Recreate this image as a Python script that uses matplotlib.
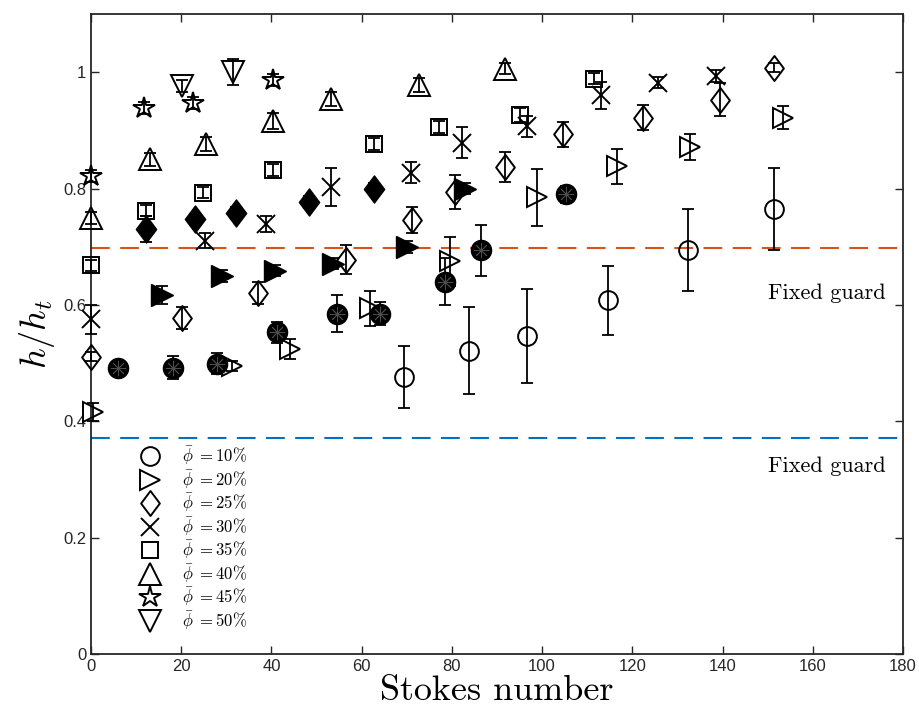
import matplotlib.pyplot as plt
from matplotlib.lines import Line2D
from matplotlib.path import Path

plt.rcParams['mathtext.fontset'] = 'cm'
plt.rcParams['font.family'] = ['Liberation Sans', 'DejaVu Sans']

# -------------------------------------------------------------------
# measured data: Stokes number vs h/h_t, one set per mean concentration
# -------------------------------------------------------------------
x10 = [69.4, 83.9, 96.7, 114.5, 132.3, 151.4]
y10 = [0.476, 0.521, 0.546, 0.608, 0.694, 0.765]
e10 = [0.053, 0.075, 0.081, 0.059, 0.070, 0.070]

x20 = [0.5, 31.2, 44.1, 61.8, 79.6, 98.8, 116.7, 132.8, 153.5]
y20 = [0.416, 0.495, 0.524, 0.594, 0.675, 0.785, 0.838, 0.871, 0.922]
e20 = [0.016, 0.008, 0.017, 0.030, 0.042, 0.049, 0.030, 0.022, 0.019]

x25 = [0, 20.1, 37.1, 56.5, 71.1, 80.7, 91.8, 104.6, 122.4, 139.4, 151.4]
y25 = [0.511, 0.578, 0.620, 0.678, 0.746, 0.794, 0.837, 0.893, 0.922, 0.953, 1.008]
e25 = [0.008, 0.019, 0.019, 0.025, 0.022, 0.029, 0.026, 0.021, 0.021, 0.028, 0.008]

x30 = [0, 25.3, 38.7, 53.2, 70.9, 82.2, 96.7, 113.0, 125.8, 138.5]
y30 = [0.575, 0.710, 0.739, 0.803, 0.827, 0.879, 0.907, 0.960, 0.982, 0.993]
e30 = [0.025, 0.013, 0.013, 0.033, 0.018, 0.027, 0.018, 0.023, 0.010, 0.010]

x35 = [0, 12.3, 24.8, 40.4, 62.7, 77.2, 95.1, 111.4]
y35 = [0.668, 0.762, 0.793, 0.832, 0.876, 0.906, 0.926, 0.989]
e35 = [0.010, 0.010, 0.010, 0.010, 0.010, 0.010, 0.012, 0.010]

x40 = [0, 13.1, 25.5, 40.4, 53.2, 72.7, 91.8]
y40 = [0.749, 0.850, 0.877, 0.916, 0.954, 0.978, 1.006]
e40 = [0.010, 0.011, 0.012, 0.014, 0.012, 0.012, 0.010]

x45 = [0, 11.8, 22.7, 40.4]
y45 = [0.821, 0.938, 0.947, 0.987]
e45 = [0.010, 0.010, 0.010, 0.010]

x50 = [20.1, 31.4]
y50 = [0.976, 1.000]
e50 = [0.010, 0.022]

# filled symbols (second set of runs)
xc = [6.05, 18.1, 28.0, 41.3, 54.5, 64.1, 78.5, 86.4, 105.4]
yc = [0.492, 0.492, 0.499, 0.553, 0.585, 0.585, 0.640, 0.694, 0.790]
ec = [0.005, 0.020, 0.018, 0.018, 0.032, 0.020, 0.040, 0.044, 0.015]

xt = [15.7, 29.0, 40.8, 53.7, 70.0, 82.9]
yt = [0.617, 0.650, 0.659, 0.671, 0.700, 0.800]
et = [0.015, 0.010, 0.010, 0.010, 0.010, 0.010]

xd = [12.3, 23.1, 32.1, 48.3, 62.8]
yd = [0.730, 0.747, 0.758, 0.777, 0.800]
ed = [0.022, 0.010, 0.010, 0.010, 0.010]

guard_hi = 0.698
guard_lo = 0.371
labels = ['10', '20', '25', '30', '35', '40', '45', '50']

# taller-than-wide diamond like MATLAB's
diamond = Path([(0, 1), (0.75, 0), (0, -1), (-0.75, 0), (0, 1)],
               [Path.MOVETO, Path.LINETO, Path.LINETO, Path.LINETO, Path.CLOSEPOLY])

fig = plt.figure(figsize=(9.2, 7.17), dpi=100)
ax = fig.add_axes([0.0989, 0.0879, 0.8826, 0.8926])

ax.axhline(guard_hi, color='#D95319', lw=1.5, dashes=(9, 5))
ax.axhline(guard_lo, color='#0072BD', lw=1.5, dashes=(9, 5))

sets = [
    (x10, y10, e10, 'o', 13.5),
    (x20, y20, e20, '>', 15),
    (x25, y25, e25, diamond, 18),
    (x30, y30, e30, 'x', 13),
    (x35, y35, e35, 's', 11),
    (x40, y40, e40, '^', 15.5),
    (x45, y45, e45, '*', 16),
    (x50, y50, e50, 'v', 15.5),
]

handles = []
for (x, y, e, m, ms), lab in zip(sets, labels):
    ax.errorbar(x, y, yerr=e, fmt='none', ecolor='k', elinewidth=1.3,
                capsize=4.5, capthick=1.3, clip_on=False, zorder=3)
    ax.plot(x, y, ls='none', marker=m, ms=ms, mfc='none', mec='k', mew=1.4,
            clip_on=False, zorder=4)
    handles.append(Line2D([], [], ls='none', marker=m, ms=ms, mfc='none',
                          mec='k', mew=1.4,
                          label=r'$\bar{\phi}\ {=}' + lab + r'\%$'))

for x, y, e, m, ms in [(xc, yc, ec, 'o', 14.5), (xt, yt, et, '>', 16), (xd, yd, ed, diamond, 19.5)]:
    ax.errorbar(x, y, yerr=e, fmt='none', ecolor='k', elinewidth=1.3,
                capsize=4.5, capthick=1.3, zorder=3)
    ax.plot(x, y, ls='none', marker=m, ms=ms, mfc='k', mec='k', mew=1.0, zorder=4)

# spokes inside the filled circles
ax.plot(xc, yc, ls='none', marker=(8, 2, 0), ms=11, mec='0.3', mew=0.6, zorder=5)

ax.text(176.2, 0.62, 'Fixed guard', family='cmr10', fontsize=16, ha='right', va='center')
ax.text(176.2, 0.323, 'Fixed guard', family='cmr10', fontsize=16, ha='right', va='center')

ax.set_xlim(0, 180)
ax.set_ylim(0, 1.1)
ax.set_xticks(range(0, 181, 20))
ax.set_yticks([0, 0.2, 0.4, 0.6, 0.8, 1.0])
ax.set_yticklabels(['0', '0.2', '0.4', '0.6', '0.8', '1'])
ax.tick_params(direction='in', top=True, right=True, length=6, width=1.0,
               labelsize=12, colors='#262626')
for s in ax.spines.values():
    s.set_linewidth(1.3)
    s.set_color('#262626')

ax.set_xlabel('Stokes number', family='cmr10', fontsize=26, labelpad=1)
ax.set_ylabel(r'$h/h_t$', fontsize=26, labelpad=4)

ax.legend(handles=handles, loc='upper left', bbox_to_anchor=(0.052, 0.3375),
          frameon=False, fontsize=12, handlelength=1.2, handletextpad=1.3,
          labelspacing=0.05, borderaxespad=0)

fig.savefig('out.png', dpi=100)
